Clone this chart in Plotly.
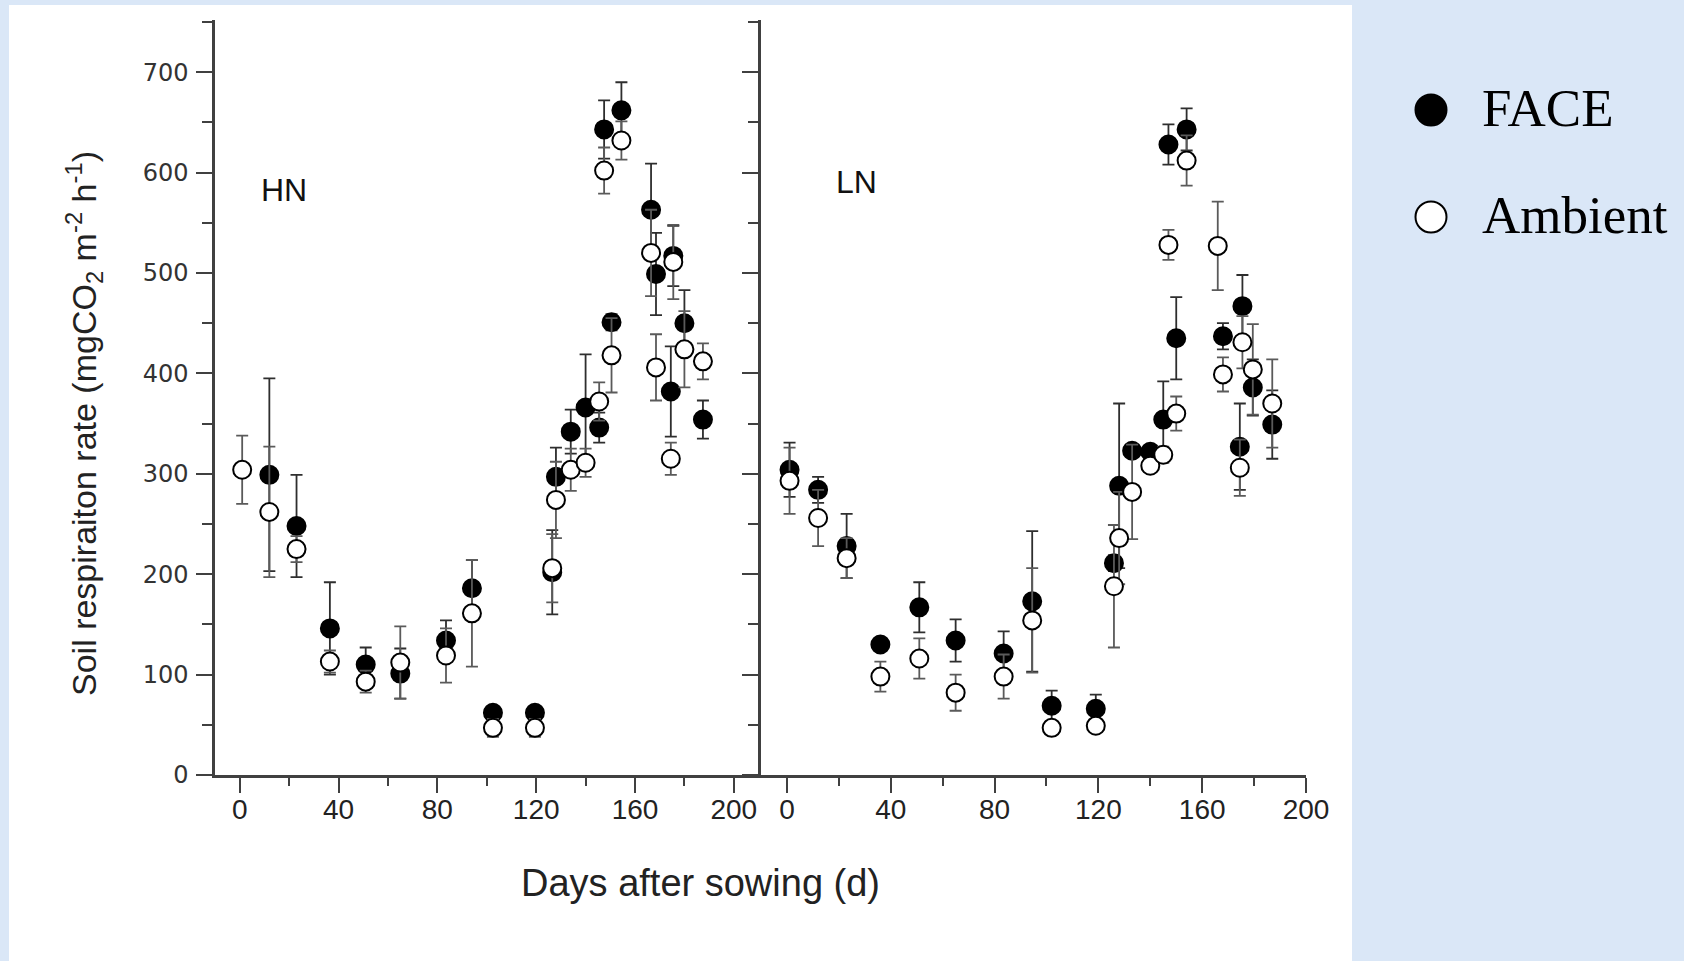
import plotly.graph_objects as go

# ---------------- data ----------------
HN_face_days = [12, 23, 36.5, 51, 65, 83.5, 94, 102.5, 119.5, 126.5, 128, 134, 140, 145.5, 147.5, 150.5, 154.5, 166.5, 168.5, 174.5, 175.5, 180, 187.5]
HN_face_vals = [299, 248, 146, 110, 101, 134, 186, 62, 62, 202, 297, 342, 366, 346, 643, 451, 662, 563, 499, 382, 517, 450, 354]
HN_face_err = [96, 51, 46, 17, 25, 20, 28, 6, 5, 42, 29, 22, 53, 15, 29, 8, 28, 46, 41, 45, 30, 33, 19]

HN_amb_days = [1, 12, 23, 36.5, 51, 65, 83.5, 94, 102.5, 119.5, 126.5, 128, 134, 140, 145.5, 147.5, 150.5, 154.5, 166.5, 168.5, 174.5, 175.5, 180, 187.5]
HN_amb_vals = [304, 262, 225, 113, 93, 112, 119, 161, 47, 47, 206, 274, 304, 311, 372, 602, 418, 632, 520, 406, 315, 511, 424, 412]
HN_amb_err = [34, 65, 13, 11, 11, 36, 27, 53, 9, 9, 34, 38, 21, 14, 19, 23, 37, 19, 43, 33, 16, 37, 38, 18]

LN_face_days = [1, 12, 23, 36, 51, 65, 83.5, 94.5, 102, 119, 126, 128, 133, 140, 145, 147, 150, 154, 168, 174.5, 175.5, 179.5, 187]
LN_face_vals = [304, 284, 228, 130, 167, 134, 121, 173, 69, 66, 211, 288, 323, 322, 354, 628, 435, 643, 437, 327, 467, 386, 349]
LN_face_err = [27, 13, 32, 6, 25, 21, 22, 70, 15, 14, 8, 82, 5, 5, 38, 20, 41, 21, 13, 43, 31, 28, 34]

LN_amb_days = [1, 12, 23, 36, 51, 65, 83.5, 94.5, 102, 119, 126, 128, 133, 140, 145, 147, 150, 154, 166, 168, 174.5, 175.5, 179.5, 187]
LN_amb_vals = [293, 256, 216, 98, 116, 82, 98, 154, 47, 49, 188, 236, 282, 308, 319, 528, 360, 612, 527, 399, 306, 431, 404, 370]
LN_amb_err = [33, 28, 20, 15, 20, 18, 22, 52, 6, 6, 61, 46, 47, 5, 8, 15, 17, 25, 44, 17, 28, 26, 45, 44]

x_ticks = [0, 40, 80, 120, 160, 200]
y_ticks = [0, 100, 200, 300, 400, 500, 600, 700]
series_names = ["FACE", "Ambient"]
panel_labels = ["HN", "LN"]

# ---------------- layout geometry (pixels) ----------------
W, H = 1684, 961
L, R, T, B = 215, 1684 - 1306, 20, 961 - 775
PW, PH = W - L - R, H - T - B
split = (761 - L) / PW

def px(x):
    return (x - L) / PW

def py(y):
    return (H - B - y) / PH

AX = "#404040"
ARIAL = "Liberation Sans, Arial, sans-serif"
SERIF = "Liberation Serif, Times New Roman, serif"

fig = go.Figure()

def add_series(days, vals, err, xa, ya, filled, name):
    fig.add_trace(go.Scatter(
        x=days, y=vals, mode="markers", name=name, showlegend=False,
        xaxis=xa, yaxis=ya,
        marker=dict(size=18, symbol="circle",
                    color="black" if filled else "white",
                    line=dict(color="black", width=2)),
        error_y=dict(type="data", array=err, visible=True,
                     color="#2e2e2e" if filled else "#5a5a5a",
                     thickness=1.8, width=6),
        cliponaxis=False,
    ))

add_series(HN_face_days, HN_face_vals, HN_face_err, "x", "y", True, series_names[0])
add_series(HN_amb_days, HN_amb_vals, HN_amb_err, "x", "y", False, series_names[1])
add_series(LN_face_days, LN_face_vals, LN_face_err, "x2", "y2", True, series_names[0])
add_series(LN_amb_days, LN_amb_vals, LN_amb_err, "x2", "y2", False, series_names[1])

xcommon = dict(
    showline=True, linecolor=AX, linewidth=2.5, mirror=False,
    ticks="outside", ticklen=15, tickwidth=2, tickcolor=AX,
    tickvals=x_ticks, ticktext=[str(t) for t in x_ticks],
    tickfont=dict(family=ARIAL, size=28, color="#222"),
    minor=dict(dtick=20, tick0=0, ticks="outside", ticklen=8, tickwidth=2, tickcolor=AX),
    showgrid=False, zeroline=False, ticklabelstandoff=-7,
)
ycommon = dict(
    showline=True, linecolor=AX, linewidth=2.5,
    ticks="outside", ticklen=16, tickwidth=2, tickcolor=AX,
    tickvals=y_ticks, range=[0, 752],
    minor=dict(dtick=50, tick0=0, ticks="outside", ticklen=10, tickwidth=2, tickcolor=AX),
    showgrid=False, zeroline=False,
)

fig.update_layout(
    width=W, height=H,
    margin=dict(l=L, r=R, t=T, b=B, pad=0),
    paper_bgcolor="#dae7f7",
    plot_bgcolor="white",
    showlegend=False,
    xaxis=dict(domain=[0, split], range=[-10, 211], anchor="y", **xcommon),
    xaxis2=dict(domain=[split, 1], range=[-10, 200], anchor="y2", **xcommon),
    yaxis=dict(anchor="x", ticktext=[str(t) for t in y_ticks],
               tickfont=dict(family="DejaVu Sans, sans-serif", size=24, color="#333"),
               ticklabelstandoff=3, **ycommon),
    yaxis2=dict(anchor="x2", showticklabels=False, **ycommon),
)

# white panel behind the chart
fig.add_shape(type="rect", xref="paper", yref="paper", layer="below",
              x0=px(9), x1=px(1352), y0=py(961), y1=py(5),
              fillcolor="white", line=dict(width=0))

# y-axis title
fig.add_annotation(xref="paper", yref="paper", x=px(84), y=py(424),
                   text="Soil respiraiton rate (mgCO<sub>2</sub> m<sup>-2</sup> h<sup>-1</sup>)",
                   textangle=-90, showarrow=False,
                   font=dict(family=ARIAL, size=34, color="#222"),
                   xanchor="center", yanchor="middle")
# x-axis title
fig.add_annotation(xref="paper", yref="paper", x=px(700), y=py(883),
                   text="Days after sowing (d)", showarrow=False,
                   font=dict(family=ARIAL, size=38, color="#222"),
                   xanchor="center", yanchor="middle")
# panel labels
fig.add_annotation(xref="paper", yref="paper", x=px(284), y=py(190),
                   text=panel_labels[0], showarrow=False,
                   font=dict(family=ARIAL, size=32, color="#111"),
                   xanchor="center", yanchor="middle")
fig.add_annotation(xref="paper", yref="paper", x=px(856), y=py(182),
                   text=panel_labels[1], showarrow=False,
                   font=dict(family=ARIAL, size=32, color="#111"),
                   xanchor="center", yanchor="middle")

# legend glyphs and text
for i, (cy, filled) in enumerate([(110, True), (217, False)]):
    r = 15.5
    fig.add_shape(type="circle", xref="paper", yref="paper",
                  x0=px(1431 - r), x1=px(1431 + r), y0=py(cy + r), y1=py(cy - r),
                  fillcolor="black" if filled else "white",
                  line=dict(color="black", width=2))
    fig.add_annotation(xref="paper", yref="paper", x=px(1480), y=py(cy - 2),
                       text=series_names[i], showarrow=False,
                       font=dict(family=SERIF, size=53, color="black"),
                       xanchor="left", yanchor="middle")

fig.write_html("out.html", config={"displayModeBar": False},
               post_script="document.body.style.margin='0';document.body.style.padding='0';")
